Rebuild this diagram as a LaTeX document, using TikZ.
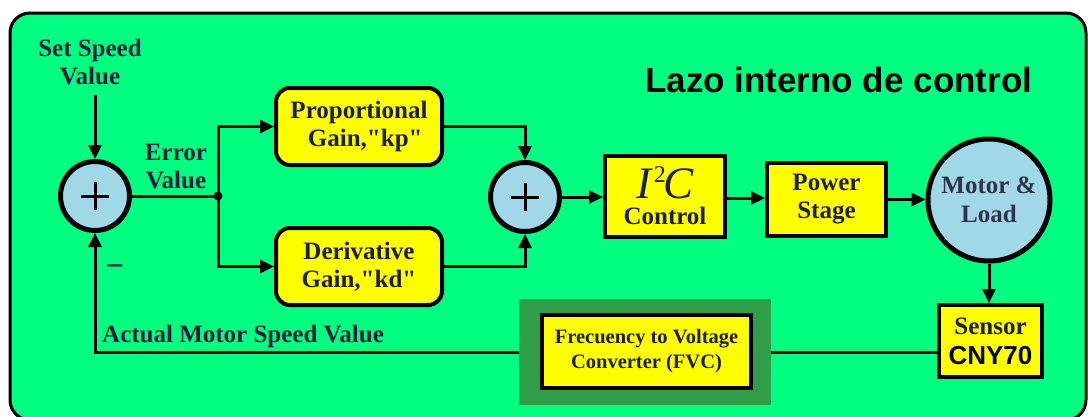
\documentclass[tikz,border=0pt]{standalone}
\usepackage{fontspec}
\setmainfont{Liberation Serif}[Ligatures=TeXOff]
\newfontfamily\titlefont{Liberation Sans}
\usetikzlibrary{arrows.meta}
\definecolor{bggreen}{RGB}{0,255,128}
\definecolor{darkg}{RGB}{46,158,72}
\definecolor{boxy}{RGB}{255,255,0}
\definecolor{circb}{RGB}{160,216,232}
\definecolor{txtc}{RGB}{30,30,60}
\tikzset{
  lbl/.style={font=\fontsize{25}{28}\selectfont\bfseries, text=txtc, align=center, inner sep=0pt},
  sumc/.style={circle, draw=black, line width=5pt, fill=circb, minimum size=69pt, inner sep=0pt},
  roundbox/.style={draw=black, line width=4pt, fill=boxy, rounded corners=14pt, minimum width=166pt, minimum height=77pt, inner sep=0pt, lbl},
  sqbox/.style={draw=black, line width=4pt, fill=boxy, inner sep=0pt, lbl},
  conn/.style={line width=3pt, draw=black},
  arr/.style={conn, -{Triangle[length=14pt,width=13pt]}},
}
\begin{document}
\begin{tikzpicture}[x=1pt,y=-1pt]
\useasboundingbox (0,0) rectangle (1088,416);
% outer panel
\draw[fill=bggreen, draw=black, line width=3pt, rounded corners=20pt] (10,13) rectangle (1086,420);

% title
\node[anchor=base west, inner sep=0pt, font=\titlefont\fontsize{35}{35}\selectfont\bfseries, text=black] (title) at (645,92) {Lazo interno de control};

% summing junctions
\node[sumc] (sum1) at (95,196) {};
\node[sumc] (sum2) at (525,197) {};
\foreach \s in {sum1,sum2}{
  \draw[line width=3pt] ([xshift=-14pt]\s.center) -- ([xshift=14pt]\s.center);
  \draw[line width=3pt] ([yshift=-14pt]\s.center) -- ([yshift=14pt]\s.center);
}

% gain blocks
\node[roundbox] (prop) at (359,126.5) {Proportional\\\ \ Gain,"kp"};
\node[roundbox] (deriv) at (359,266.5) {Derivative\\Gain,"kd"};

% I2C control
\node[sqbox, minimum width=120pt, minimum height=81pt] (i2c) at (665,196.5) {};
\node[anchor=base, inner sep=0pt, text=txtc, font=\fontsize{45}{45}\selectfont\itshape] (i2ct) at (665,198) {I\kern3pt\raisebox{16pt}{\upshape\fontsize{24}{24}\selectfont 2}\kern-2pt C};
\node[anchor=base, lbl] (i2cc) at (665,224) {Control};

% power stage
\node[sqbox, minimum width=119pt, minimum height=73pt] (power) at (826.5,199.5) {Power\\Stage};

% motor
\node[circle, draw=black, line width=5pt, fill=circb, minimum size=122pt, inner sep=0pt, lbl, font=\fontsize{25}{29}\selectfont\bfseries, text=txtc!80!gray] (motor) at (989,200) {Motor \&\\Load};

% sensor
\node[sqbox, minimum width=103pt, minimum height=72pt, font=\fontsize{25}{30}\selectfont\bfseries, text=black] (sensor) at (990.5,341) {\textcolor{txtc}{Sensor}\\{\titlefont\fontsize{26}{30}\selectfont\bfseries CNY70}};

% FVC
\node[fill=darkg, minimum width=252pt, minimum height=106pt, inner sep=0pt] (fvcout) at (645,352) {};
\node[sqbox, minimum width=209pt, minimum height=73pt, font=\fontsize{20.5}{25}\selectfont\bfseries] (fvc) at (646.5,351.5) {Frecuency to Voltage\\Converter (FVC)};

% labels
\node[lbl] (setsp) at (90,62) {Set Speed\\Value};
\coordinate (setin) at (95,95);
\node[lbl] (errv) at (176,166) {Error\\Value};
\node[anchor=base, inner sep=0pt, text=txtc, font=\fontsize{32}{32}\selectfont\bfseries] (minus) at (115,276) {\char"2212};
\node[anchor=base west, lbl] (actual) at (102,342) {Actual Motor Speed Value};

% connectors
\coordinate (junc) at (218,196);
\coordinate (i2cout) at ([yshift=-1.5pt]i2c.east);
\draw[arr] (setin) -- (sum1.north);
\draw[conn] (sum1.east) -- (junc);
\fill (junc) circle (4.5pt);
\draw[arr] (junc) |- (prop.west);
\draw[arr] (junc) |- (deriv.west);
\draw[arr] (prop.east) -| (sum2.north);
\draw[arr] (deriv.east) -| (sum2.south);
\draw[arr] (sum2.east) -- (i2c.west |- sum2.east);
\draw[arr] (i2cout) -- (power.west |- i2cout);
\draw[arr] (power.east) -- (motor.west |- power.east);
\draw[arr] (motor.south) -- (motor.south |- sensor.north);
\draw[conn] (sensor.west |- fvcout.east) -- (fvcout.east);
\draw[arr] (fvcout.west) -| (sum1.south);
\end{tikzpicture}
\end{document}
